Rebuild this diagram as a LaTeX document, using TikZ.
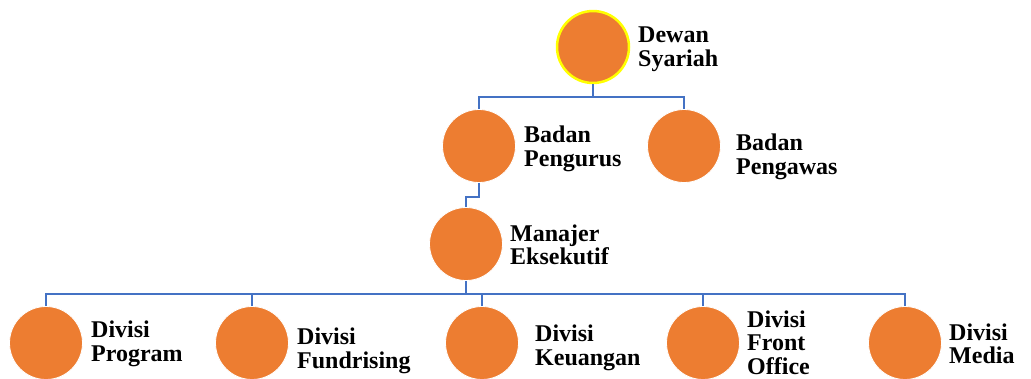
\documentclass[tikz,border=0pt]{standalone}
\usepackage{fontspec}
\setmainfont{Liberation Serif}
\definecolor{orgfill}{HTML}{ED7D31}
\definecolor{linkblue}{HTML}{4472C4}
\definecolor{ylw}{HTML}{FFFF00}
\begin{document}
\begin{tikzpicture}[x=1pt,y=-1pt,
  unit/.style={circle,fill=orgfill,draw=white,line width=0.8pt,minimum size=73pt,inner sep=0pt},
  lbl/.style={anchor=west,align=left,inner sep=0pt,font=\fontsize{24}{23.5}\selectfont\bfseries},
  link/.style={draw=linkblue,line width=2.5pt}]
\useasboundingbox (0,0) rectangle (1031,378);
% circles
\node[unit,draw=ylw,line width=2.5pt,minimum size=72pt] (d) at (593,47) {};
\node[unit] (bp) at (479,146) {};
\node[unit] (bw) at (684,146) {};
\node[unit] (me) at (466,244) {};
\node[unit] (dp) at (46,343) {};
\node[unit] (df) at (252,343) {};
\node[unit] (dk) at (482,343) {};
\node[unit] (dfo) at (703,343) {};
\node[unit] (dm) at (905,343) {};
% labels
\node[lbl] (td) at (638,49) {Dewan\\Syariah};
\node[lbl] (tbp) at (524,149) {Badan\\Pengurus};
\node[lbl] (tbw) at (736,157) {Badan\\Pengawas};
\node[lbl] (tme) at (510,245) {Manajer\\Eksekutif};
\node[lbl] (tdp) at (91,344) {Divisi\\Program};
\node[lbl] (tdf) at (297,351) {Divisi\\Fundrising};
\node[lbl] (tdk) at (535,348) {Divisi\\Keuangan};
\node[lbl] (tdfo) at (747,342.5) {Divisi\\Front\\Office};
\node[lbl] (tdm) at (949,344) {Divisi\\Media};
% connectors
\coordinate (bus1) at (593,97);
\coordinate (bus2) at (466,197);
\coordinate (bus3) at (466,294);
\draw[link] (d.south) -- (bus1);
\draw[link] (bus1) -| (bp.north);
\draw[link] (bus1) -| (bw.north);
\draw[link] (bp.south) |- (bus2) -- (me.north);
\draw[link] (me.south) -- (bus3);
\draw[link] (dp.north) |- (bus3);
\draw[link] (df.north) |- (bus3);
\draw[link] (dk.north) |- (bus3);
\draw[link] (dfo.north) |- (bus3);
\draw[link] (dm.north) |- (bus3);
\end{tikzpicture}
\end{document}
